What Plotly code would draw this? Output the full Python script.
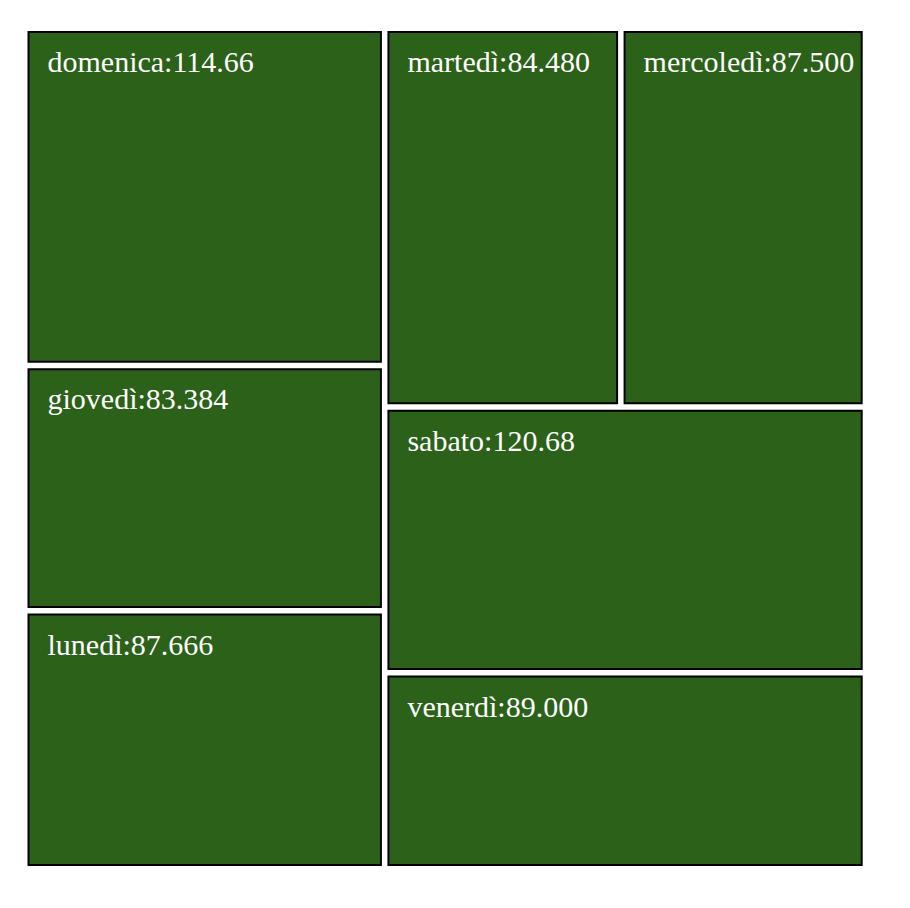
import plotly.graph_objects as go

days = ["domenica", "giovedì", "lunedì", "martedì", "mercoledì", "sabato", "venerdì"]
values = [114.66, 83.384, 87.666, 84.48, 87.5, 120.68, 89.0]

GREEN = "#2b6119"
FONT = "Liberation Serif"
BLANK = "\u00a0"

ids = ["root"] + ["tile-" + d for d in days] + ["label-" + d for d in days]
parents = [""] + ["root"] * len(days) + ["tile-" + d for d in days]
labels = [BLANK] + [BLANK] * len(days) + days
node_values = [0] + [0] * len(days) + values
colors = ["#ffffff"] + [GREEN] * len(days) + ["rgba(0,0,0,0)"] * len(days)
line_colors = ["#ffffff"] + ["#000000"] * len(days) + ["rgba(0,0,0,0)"] * len(days)
line_widths = [0] + [2] * len(days) + [0] * len(days)
templates = [BLANK] * (1 + len(days)) + ["%{label}:%{value:.5r}"] * len(days)

fig = go.Figure(
    go.Treemap(
        ids=ids,
        parents=parents,
        labels=labels,
        values=node_values,
        branchvalues="remainder",
        sort=False,
        texttemplate=templates,
        textposition="top left",
        textfont=dict(family=FONT, size=30, color="white"),
        insidetextfont=dict(family=FONT, size=30, color="white"),
        marker=dict(
            colors=colors,
            line=dict(color=line_colors, width=line_widths),
            pad=dict(t=10, l=16, r=0, b=0),
        ),
        tiling=dict(packing="squarify", squarifyratio=1.618034, pad=7.5),
        pathbar=dict(visible=False),
        hoverinfo="skip",
        domain=dict(x=[12.5 / 910, 861.7 / 910], y=[1 - 865 / 908, 1 - 22 / 908]),
    )
)

fig.update_layout(
    width=910,
    height=908,
    margin=dict(l=0, r=0, t=0, b=0),
    paper_bgcolor="white",
    plot_bgcolor="white",
    font=dict(family=FONT),
)

fig.write_html("out.html")
